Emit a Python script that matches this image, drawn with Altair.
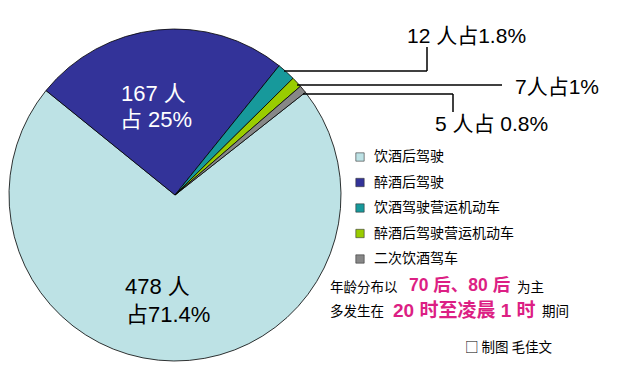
import math
import altair as alt
import pandas as pd

# ---- data ----
categories = ["饮酒后驾驶", "醉酒后驾驶", "饮酒驾驶营运机动车", "醉酒后驾驶营运机动车", "二次饮酒驾车"]
counts = [478, 167, 12, 7, 5]
shares = ["71.4%", "25%", "1.8%", "1%", "0.8%"]
pie_order = [5, 1, 2, 3, 4]
colors = ["#bde2e5", "#333399", "#17999b", "#99cc00", "#878787"]

note_line1 = ["年龄分布以", "70 后、80 后", "为主"]
note_line2 = ["多发生在", "20 时至凌晨 1 时", "期间"]
credit = "□ 制图 毛佳文"

# ---- layout ----
W, H = 616, 366
OX, OY = 8, 8
CX, CY, R = 175, 195, 166
START = math.radians(309)
MAGENTA = "#dc1f84"
FONT = "Liberation Sans, Noto Sans CJK SC"
CJK = "Noto Sans CJK SC"

xs = alt.Scale(domain=[OX, OX + W], nice=False, zero=False)
ys = alt.Scale(domain=[OY, OY + H], nice=False, zero=False, reverse=True)

pie_df = pd.DataFrame({"category": categories, "count": counts, "order": pie_order})

pie = alt.Chart(pie_df).mark_arc(outerRadius=R, stroke="black", strokeWidth=0.8).encode(
    theta=alt.Theta("count:Q", stack=True, scale=alt.Scale(range=[START, START + 2 * math.pi])),
    color=alt.Color(
        "category:N",
        scale=alt.Scale(domain=categories, range=colors),
        legend=alt.Legend(
            title=None, orient="none", legendX=345, legendY=142,
            symbolType="square", symbolSize=70, symbolStrokeColor="#333",
            symbolStrokeWidth=0.6, labelFont=CJK, labelFontSize=14,
            labelColor="black", labelOffset=7, rowPadding=11.5, padding=0,
        ),
    ),
    order=alt.Order("order:Q"),
    x=alt.value(CX - OX),
    y=alt.value(CY - OY),
)

# leader lines
segs = pd.DataFrame({
    "x": [284, 427, 297, 303, 453],
    "y": [71, 71, 85, 94, 94],
    "x2": [427, 427, 502, 453, 453],
    "y2": [71, 47, 85, 94, 112],
})
leaders = alt.Chart(segs).mark_rule(color="black", strokeWidth=1.5).encode(
    x=alt.X("x:Q", scale=xs, axis=None), y=alt.Y("y:Q", scale=ys, axis=None),
    x2="x2:Q", y2="y2:Q",
)


def text_layer(rows, size, color, weight="normal", font=FONT, align="left"):
    df = pd.DataFrame(rows, columns=["t", "x", "y"])
    return alt.Chart(df).mark_text(
        align=align, baseline="middle", fontSize=size, color=color,
        fontWeight=weight, font=font,
    ).encode(
        x=alt.X("x:Q", scale=xs, axis=None),
        y=alt.Y("y:Q", scale=ys, axis=None),
        text="t:N",
    )


in_white = text_layer([
    (f"{counts[1]} 人", 121, 94),
    (f"占 {shares[1]}", 120, 120),
], 22, "white")

in_black = text_layer([
    (f"{counts[0]} 人", 125, 287),
    (f"占{shares[0]}", 126, 315),
], 22, "black")

outside = text_layer([
    (f"{counts[2]} 人占{shares[2]}", 407, 37),
    (f"{counts[3]}人占{shares[3]}", 515, 88),
    (f"{counts[4]} 人占 {shares[4]}", 435, 125),
], 21, "black")

notes_small = text_layer([
    (note_line1[0], 330, 288),
    (note_line1[2], 517, 288),
    (note_line2[0], 330, 312),
    (note_line2[2], 542, 312),
    (credit, 465, 348),
], 13.5, "black", font=CJK)

notes_big1 = text_layer([
    (note_line1[1], 409, 286),
], 17.5, MAGENTA, weight="bold")

notes_big2 = text_layer([
    (note_line2[1], 393, 311),
], 19, MAGENTA, weight="bold")

chart = alt.layer(pie, leaders, in_white, in_black, outside, notes_small, notes_big1, notes_big2).properties(
    width=W, height=H, padding=0, autosize="none", background="white",
).configure_view(stroke=None)

chart.save("out.html", embed_options={"renderer": "svg", "actions": False})
